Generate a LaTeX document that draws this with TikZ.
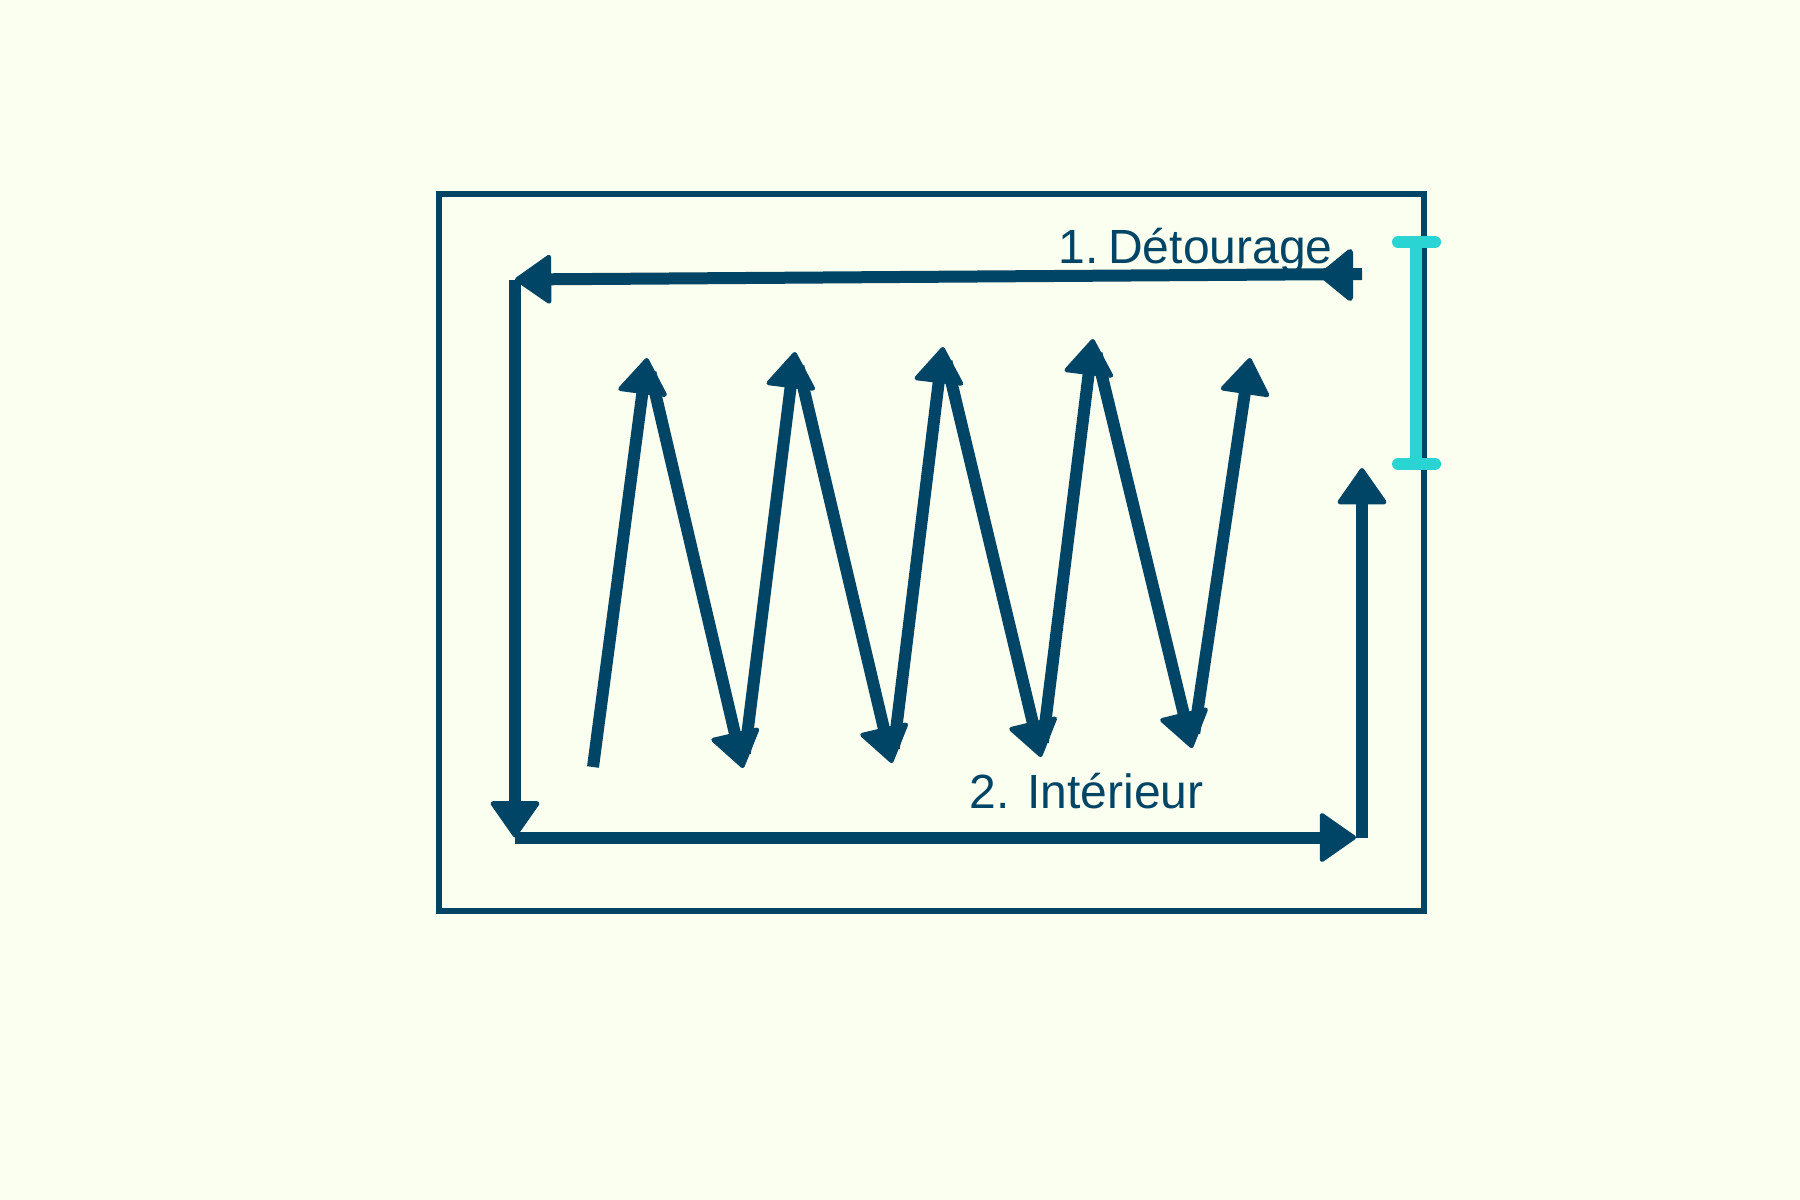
\documentclass[tikz,border=0pt]{standalone}
\usepackage{fontspec}
\setmainfont{Liberation Sans}
\usetikzlibrary{arrows.meta}
\definecolor{bg}{RGB}{251,255,239}
\definecolor{navy}{RGB}{0,69,102}
\definecolor{aqua}{RGB}{42,212,210}
\begin{document}
\begin{tikzpicture}[x=0.1mm,y=-0.1mm,
  heavy/.style={navy,line width=1.2mm},
  tipped/.style={heavy,-{Triangle[length=3.8mm,width=5.2mm,line width=0.45mm,round]}},
  zig/.style={tipped,shorten <=1.5mm},
  lbl/.style={anchor=base west,inner sep=0pt,text=navy,font=\fontsize{13.66pt}{16pt}\selectfont}]
\useasboundingbox (0,0) rectangle (1800,1200);
\fill[bg] (0,0) rectangle (1800,1200);
% frame
\draw[navy,line width=0.6mm] (439,194) rectangle (1424,911);
% outline path coordinates
\coordinate (tr) at (1362,274);
\coordinate (tl) at (515,279.5);
\coordinate (bl) at (515,837.5);
\coordinate (br) at (1356,837.5);
\coordinate (rb) at (1362,837.5);
\coordinate (rt) at (1362,468);
\coordinate (m1) at (1322,275);
\coordinate (m2) at (1350,252);
\coordinate (m3) at (1350,298);
% 1. contour
\draw[tipped] (tr) -- (tl);
\filldraw[navy,line width=0.6mm,line join=round] (m1) -- (m2) -- (m3) -- cycle;
\draw[tipped] (tl) -- (bl);
\draw[tipped] (bl) -- (br);
\draw[tipped] (rb) -- (rt);
% zigzag
\coordinate (z0) at (593,767);
\coordinate (z1) at (647,358);
\coordinate (z2) at (743,768);
\coordinate (z3) at (795,352);
\coordinate (z4) at (892,763);
\coordinate (z5) at (943,347);
\coordinate (z6) at (1041,757);
\coordinate (z7) at (1093,339);
\coordinate (z8) at (1192,748);
\coordinate (z9) at (1250,358);
\draw[tipped] (z0) -- (z1);
\draw[zig] (z1) -- (z2);
\draw[zig] (z2) -- (z3);
\draw[zig] (z3) -- (z4);
\draw[zig] (z4) -- (z5);
\draw[zig] (z5) -- (z6);
\draw[zig] (z6) -- (z7);
\draw[zig] (z7) -- (z8);
\draw[zig] (z8) -- (z9);
% cyan bracket
\coordinate (ct) at (1416,242);
\coordinate (cb) at (1416,464);
\coordinate (ctl) at (1398,242);
\coordinate (ctr) at (1435,242);
\coordinate (cbl) at (1398,464);
\coordinate (cbr) at (1435,464);
\draw[aqua,line width=1.2mm] (ct) -- (cb);
\draw[aqua,line width=1.2mm,line cap=round] (ctl) -- (ctr);
\draw[aqua,line width=1.2mm,line cap=round] (cbl) -- (cbr);
% labels
\node[lbl] (l1) at (1058,263) {1.\kern0.2em Détourage};
\node[lbl] (l2) at (969,808) {2. Intérieur};
\end{tikzpicture}
\end{document}
